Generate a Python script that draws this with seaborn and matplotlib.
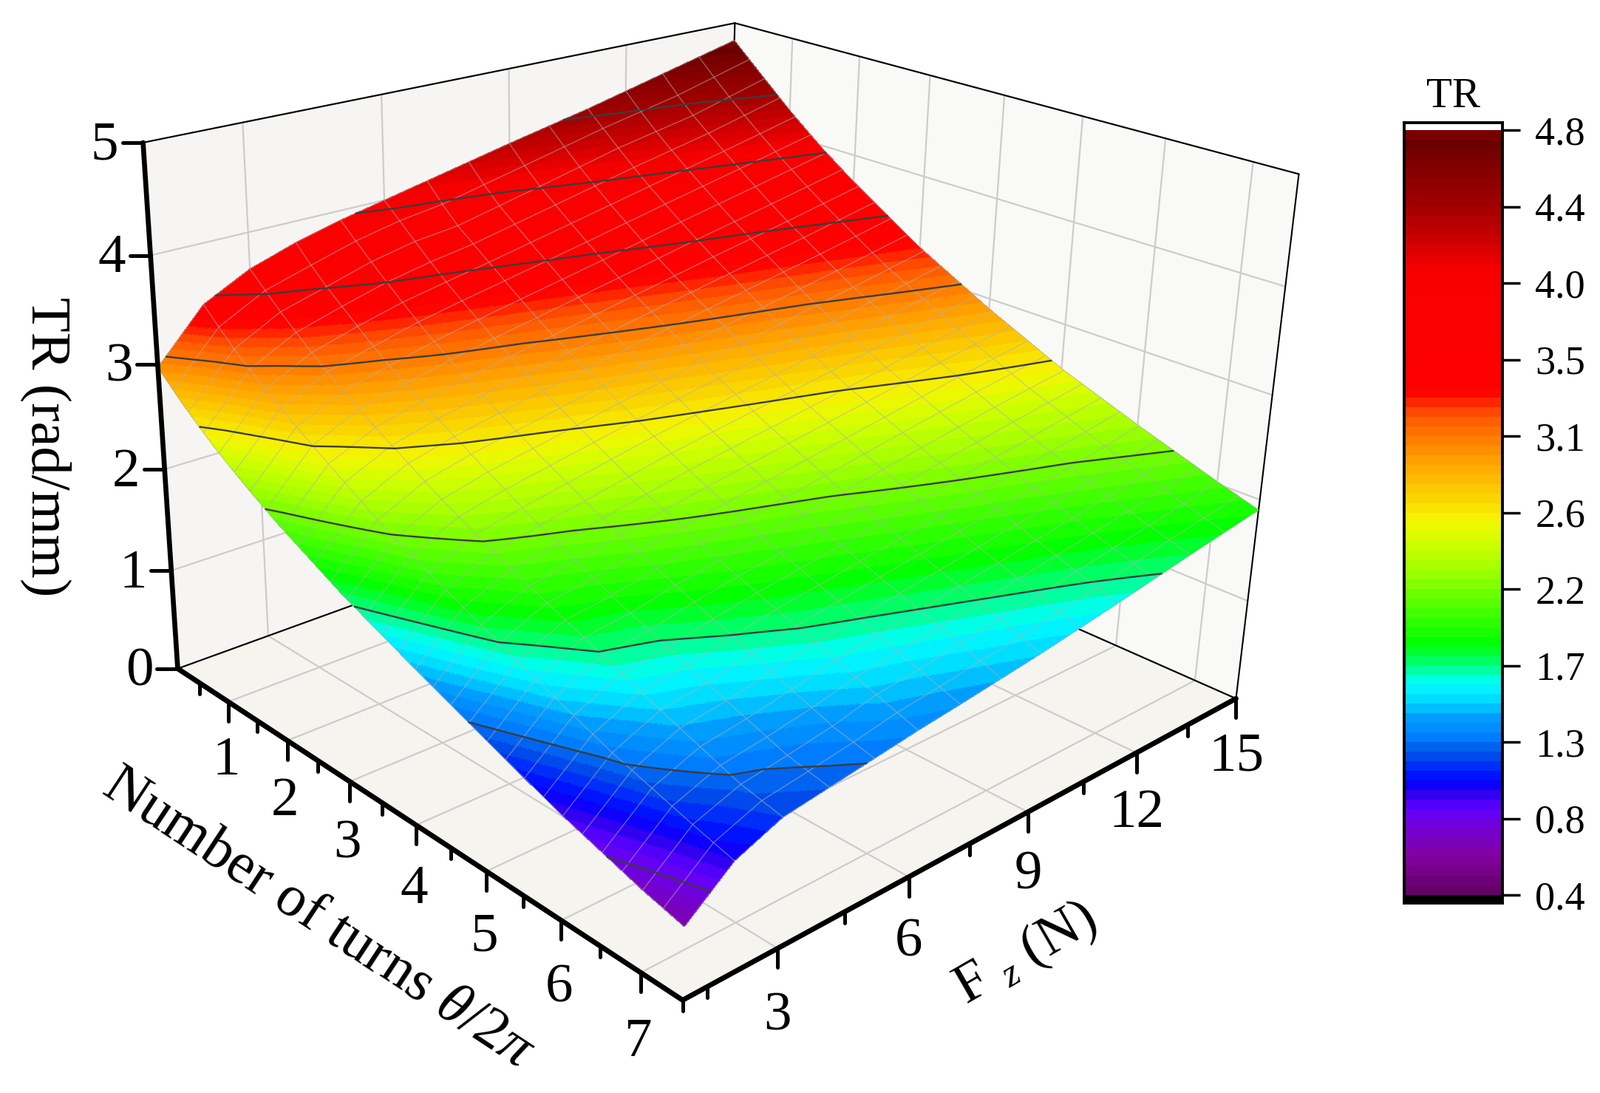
# TR surface over axial force and number of turns, with a banded colour bar.

import numpy as np
import matplotlib.pyplot as plt
import seaborn as sns
from matplotlib.colors import LinearSegmentedColormap
from matplotlib.lines import Line2D
from mpl_toolkits.mplot3d import proj3d

W, H = 2165, 1479

# values
turns = [0.1, 0.5, 1, 1.5, 2, 3, 4, 5, 6, 7, 7.5]
force = [1, 2, 3, 4, 5, 6, 7, 9, 11, 13, 15]
tr_f1 = [2.97, 2.74, 2.49, 2.28, 2.09, 1.76, 1.48, 1.21, 0.95, 0.73, 0.64]
tr_f2 = [3.44, 3.20, 2.95, 2.74, 2.54, 2.16, 1.87, 1.58, 1.31, 1.09, 0.99]
tr_f3 = [3.66, 3.43, 3.17, 2.94, 2.74, 2.37, 2.05, 1.78, 1.50, 1.24, 1.16]
tr_f4 = [3.80, 3.55, 3.30, 3.05, 2.85, 2.48, 2.13, 1.83, 1.56, 1.30, 1.22]
tr_f5 = [3.91, 3.68, 3.41, 3.16, 2.94, 2.56, 2.21, 1.92, 1.65, 1.37, 1.28]
tr_f6 = [4.00, 3.77, 3.49, 3.25, 3.02, 2.64, 2.29, 1.99, 1.73, 1.47, 1.34]
tr_f7 = [4.09, 3.81, 3.57, 3.33, 3.10, 2.72, 2.37, 2.05, 1.79, 1.52, 1.39]
tr_f9 = [4.27, 4.00, 3.74, 3.49, 3.26, 2.86, 2.50, 2.18, 1.91, 1.64, 1.50]
tr_f11 = [4.44, 4.20, 3.91, 3.66, 3.42, 2.99, 2.63, 2.32, 2.03, 1.76, 1.63]
tr_f13 = [4.63, 4.35, 4.08, 3.82, 3.57, 3.13, 2.77, 2.45, 2.15, 1.89, 1.77]
tr_f15 = [4.82, 4.57, 4.26, 3.98, 3.73, 3.28, 2.90, 2.56, 2.28, 2.02, 1.90]

bar_levels = [4.83, 4.385, 3.94, 3.495, 3.05, 2.605, 2.16, 1.715, 1.27, 0.825, 0.38]
bar_labels = ["4.8", "4.4", "4.0", "3.5", "3.1", "2.6", "2.2", "1.7", "1.3", "0.8", "0.4"]
turn_ticks = [1, 2, 3, 4, 5, 6, 7]
turn_minor = [0.5, 1.5, 2.5, 3.5, 4.5, 5.5, 6.5, 7.5]
force_ticks = [3, 6, 9, 12, 15]
force_minor = [1.5, 4.5, 7.5, 10.5, 13.5]
tr_ticks = [0, 1, 2, 3, 4, 5]

stops = [(0, "#650068"), (.046, "#8400a0"), (.085, "#7000d8"), (.109, "#6000ff"), (.127, "#3000f0"),
         (.144, "#0000ff"), (.158, "#0020ff"), (.18, "#0050e8"), (.204, "#0080ff"), (.23, "#00a0ff"),
         (.249, "#00d8ff"), (.274, "#00ffff"), (.297, "#00ff80"), (.327, "#00ff00"), (.385, "#60ff00"),
         (.423, "#a0ff00"), (.46, "#d0ff00"), (.49, "#f5f500"), (.555, "#ffb000"), (.589, "#ff8800"),
         (.628, "#ff5500"), (.66, "#ff0000"), (.82, "#f80000"), (.872, "#c00000"), (.908, "#a00000"),
         (.961, "#800000"), (.99, "#680000"), (1, "#7a0000")]
n_bands = 80
cmap = LinearSegmentedColormap.from_list("tr", stops, N=n_bands)
vmin, vmax = bar_levels[-1], bar_levels[0]

sns.set_theme(style="white", rc={"grid.color": "#cccccc", "grid.linewidth": 1.6, "axes3d.grid": True})
plt.rcParams["font.family"] = ["Liberation Serif", "DejaVu Serif"]
plt.rcParams["mathtext.fontset"] = "custom"
plt.rcParams["mathtext.rm"] = "Liberation Serif"
plt.rcParams["mathtext.it"] = "Liberation Serif:italic"

tr_table = np.array([tr_f1, tr_f2, tr_f3, tr_f4, tr_f5, tr_f6, tr_f7, tr_f9, tr_f11, tr_f13, tr_f15])


def resample(t_new, f_new):
    # bilinear lookup in the table, only so the bands render smoothly
    by_t = np.array([np.interp(t_new, turns, row) for row in tr_table])
    return np.array([np.interp(f_new, force, by_t[:, i]) for i in range(len(t_new))]).T


t_min, t_max = turns[0], turns[-1]
f_min, f_max = force[0], force[-1]

fig = plt.figure(figsize=(W / 100, H / 100), dpi=100, facecolor="white")
ax_h = W / H
ax = fig.add_axes([935.48 / W - 0.5, 864.5 / H - ax_h / 2, 1, ax_h], projection="3d", computed_zorder=False)
ax.patch.set_alpha(0)
ax.set_xlim(t_min, t_max, view_margin=0)
ax.set_ylim(f_min, f_max, view_margin=0)
ax.set_zlim(0, 5, view_margin=0)
ax.view_init(elev=22.674, azim=-42.28)
ax.set_proj_type("persp", focal_length=0.2875)
ax.set_box_aspect((1.4129, 1.3455, 1.0), zoom=0.7558)

# the original camera is off-axis, mplot3d only aims at the box centre
off_axis = np.array([[1, 0.02659, 0, 0], [0, 1, 0, 0], [0, 0, 1, 0], [0.21357, 0.00047, 0, 1.0]])
base_proj = ax.get_proj
ax.get_proj = lambda: off_axis @ base_proj()

ax.set_xticks(turn_ticks)
ax.set_yticks(force_ticks)
ax.set_zticks(tr_ticks)
ax.set_xticklabels([])
ax.set_yticklabels([])
ax.set_zticklabels([])
pane_colors = {"x": "#f6f5f3", "y": "#f9f9f7", "z": "#f5f4ee"}
for name, axis in zip("xyz", (ax.xaxis, ax.yaxis, ax.zaxis)):
    axis.set_pane_color(pane_colors[name])
    axis.pane.set_edgecolor(pane_colors[name])
    axis.line.set_linewidth(0)
    axis._axinfo["tick"]["inward_factor"] = 0
    axis._axinfo["tick"]["outward_factor"] = 0
    axis._axinfo["tick"]["linewidth"] = {True: 0, False: 0}

t_fine = np.linspace(t_min, t_max, 593)
f_fine = np.linspace(f_min, f_max, 561)
T, F = np.meshgrid(t_fine, f_fine)
Z = resample(t_fine, f_fine)

# thin box edges behind the surface
for xs, ys, zs in [([t_min, t_min], [f_min, f_max], [5, 5]), ([t_min, t_max], [f_max, f_max], [5, 5]),
                   ([t_min, t_min], [f_max, f_max], [0, 5]), ([t_max, t_max], [f_max, f_max], [0, 5]),
                   ([t_min, t_min], [f_min, f_max], [0, 0]), ([t_min, t_max], [f_max, f_max], [0, 0])]:
    ax.plot(xs, ys, zs, color="black", lw=1.5, zorder=1)

ax.plot_surface(T, F, Z, rstride=1, cstride=1, cmap=cmap, vmin=vmin, vmax=vmax, linewidth=0,
                antialiased=False, shade=False, zorder=3)

t_wire = np.linspace(t_min, t_max, 31)
f_wire = np.arange(f_min, f_max + 1)
Tw, Fw = np.meshgrid(t_wire, f_wire)
ax.plot_wireframe(Tw, Fw, resample(t_wire, f_wire), color="#b0b0b0", alpha=0.65, lw=0.8, zorder=4)
ax.contour(T, F, Z, levels=bar_levels[-2:0:-1], colors="#3c3c3c", linewidths=1.7, zorder=5)

ax.apply_aspect()
ax.M = ax.get_proj()


def to_px(t, f, z):
    x, y, _ = proj3d.proj_transform(t, f, z, ax.M)
    return ax.transData.transform((x, y))


def fig_line(xs, ys, lw):
    fig.add_artist(Line2D(np.array(xs) / W, np.array(ys) / H, transform=fig.transFigure, color="black",
                          lw=lw, solid_capstyle="round"))


def fig_label(x, y, s, size=54, rotation=0):
    fig.text(x / W, y / H, s, fontsize=size, rotation=rotation, ha="center", va="center",
             rotation_mode="anchor", color="black")


# thick axes drawn over the panes
p0, p1 = to_px(t_min, f_min, 0), to_px(t_min, f_min, 5)
fig_line([p0[0], p1[0]], [p0[1], p1[1]], 4.8)
p2 = to_px(t_max, f_min, 0)
fig_line([p0[0], p2[0]], [p0[1], p2[1]], 5)
p3 = to_px(t_max, f_max, 0)
fig_line([p2[0], p3[0]], [p2[1], p3[1]], 5)

for v in tr_ticks:
    x, y = to_px(t_min, f_min, v)
    fig_line([x - 28, x], [y, y], 3.6)
    fig_label(x - 52, y - 5, str(v))
for v in turn_ticks:
    x, y = to_px(v, f_min, 0)
    fig_line([x, x], [y, y - 26], 3.6)
    fig_label(x - 3, y - (78 + 2.4 * v), str(v))
for v in turn_minor:
    x, y = to_px(v, f_min, 0)
    fig_line([x, x], [y, y - 15], 3.6)
for v in force_ticks:
    x, y = to_px(t_max, v, 0)
    fig_line([x, x], [y, y - 26], 3.6)
    fig_label(x, y - (96 - 1.1 * v), str(v))
for v in force_minor:
    x, y = to_px(t_max, v, 0)
    fig_line([x, x], [y, y - 15], 3.6)

fig_label(62, H - 605, "TR (rad/mm)", size=55, rotation=270)
fig_label(431, H - 1243, r"Number of turns $\mathit{\theta}$/2$\mathit{\pi}$", size=56.5, rotation=-33.4)
fig_label(1388, H - 1291, r"F $_{\mathit{z}}$ (N)", size=55, rotation=30)

# colour bar
bar_top, bar_bottom = 166, 1222
color_top, color_bottom = 176, 1211
cax = fig.add_axes([1900 / W, 1 - bar_bottom / H, 133 / W, (bar_bottom - bar_top) / H])
bands = np.linspace(vmax, vmin, n_bands).reshape(-1, 1)
sns.heatmap(bands, ax=cax, cmap=cmap, vmin=vmin, vmax=vmax, cbar=False, xticklabels=False, yticklabels=False)
cell = (color_bottom - color_top) / n_bands
cax.axhspan(n_bands, n_bands + (bar_bottom - color_bottom) / cell, color="black", lw=0)
cax.set_ylim(n_bands + (bar_bottom - color_bottom) / cell, -(color_top - bar_top) / cell)
for spine in cax.spines.values():
    spine.set_visible(True)
    spine.set_color("black")
    spine.set_linewidth(2.8)
cax.set_yticks((vmax - np.array(bar_levels)) / (vmax - vmin) * n_bands)
cax.set_yticklabels(bar_labels, rotation=0, fontsize=39)
cax.tick_params(axis="y", left=False, right=True, labelleft=False, labelright=True, length=17, width=2.5,
                color="black", pad=15, labelcolor="black")
cax.tick_params(axis="x", bottom=False)
cax.set_title("TR", fontsize=41, color="black", pad=15)

fig.savefig("out.png", dpi=100)
